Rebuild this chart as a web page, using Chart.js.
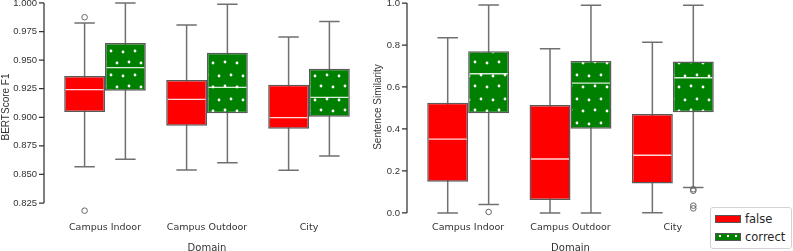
<!DOCTYPE html>
<html>
<head>
<meta charset="utf-8">
<script src="https://cdn.jsdelivr.net/npm/chart.js@4.4.0/dist/chart.umd.min.js"></script>
<style>
    body { margin: 0; width: 793px; height: 251px; position: relative; background: #fff; overflow: hidden; }
    #bert-chart { position: absolute; left: 0; top: 0; }
    #sim-chart { position: absolute; left: 370px; top: 0; }
    #legend {
        position: absolute; left: 710px; top: 207px; width: 82px; height: 42px;
        box-sizing: border-box; border: 1px solid #d3d3d3; border-radius: 3px; background: #fff;
        font-family: 'DejaVu Sans', sans-serif; font-size: 11.5px; color: #262626;
    }
    #legend .sw { position: absolute; left: 4px; width: 26px; height: 8px; box-sizing: border-box; border: 1px solid #555; }
    #legend .txt { position: absolute; left: 34px; line-height: 14px; }
    #legend .red { background: #ff0000; }
    #legend .dots {
        background-color: #008000;
        background-image: radial-gradient(circle, #fff 1.1px, transparent 1.6px);
        background-size: 8px 6px;
        background-position: 0 -1px;
    }
</style>
</head>
<body>
<canvas id="bert-chart" width="370" height="251"></canvas>
<canvas id="sim-chart" width="423" height="251"></canvas>
<div id="legend">
    <span class="sw red" style="top:7px"></span><span class="txt" style="top:4px">false</span>
    <span class="sw dots" style="top:25px"></span><span class="txt" style="top:22px">correct</span>
</div>
<script>
// Categories on the x axis
const domains = ['Campus Indoor', 'Campus Outdoor', 'City'];

// BERTScore F1 - boxes are [q1, q3], whiskers are [low, high]
const bertFalseBox = [[0.9046, 0.9361], [0.8927, 0.9326], [0.8900, 0.9285]];
const bertFalseMedian = [0.9242, 0.9157, 0.8997];
const bertFalseWhiskers = [[0.8568, 0.9825], [0.8539, 0.9808], [0.8536, 0.9703]];
const bertFalseOutliers = [[0.8183, 0.9875], [], []];

const bertCorrectBox = [[0.9233, 0.9650], [0.9035, 0.9565], [0.9005, 0.9425]];
const bertCorrectMedian = [0.9434, 0.9262, 0.9175];
const bertCorrectWhiskers = [[0.8632, 1.0000], [0.8603, 0.9989], [0.8661, 0.9837]];
const bertCorrectOutliers = [[], [], []];

// Sentence similarity
const simFalseBox = [[0.149, 0.525], [0.062, 0.514], [0.141, 0.471]];
const simFalseMedian = [0.352, 0.257, 0.275];
const simFalseWhiskers = [[0.000, 0.835], [0.000, 0.782], [0.001, 0.813]];
const simFalseOutliers = [[], [], []];

const simCorrectBox = [[0.475, 0.770], [0.401, 0.724], [0.480, 0.722]];
const simCorrectMedian = [0.663, 0.618, 0.644];
const simCorrectWhiskers = [[0.040, 0.990], [0.000, 0.989], [0.121, 0.989]];
const simCorrectOutliers = [[0.005], [], [0.113, 0.106, 0.035, 0.022]];

// Tick labels
const bertTicks = [0.825, 0.850, 0.875, 0.900, 0.925, 0.950, 0.975, 1.000];
const simTicks = [0.0, 0.2, 0.4, 0.6, 0.8, 1.0];

// green fill with white dots (hatch)
function dotPattern(ctx) {
    const tile = document.createElement('canvas');
    tile.width = 24;
    tile.height = 24;
    const t = tile.getContext('2d');
    t.fillStyle = '#008000';
    t.fillRect(0, 0, 24, 24);
    t.fillStyle = '#ffffff';
    [[3, 4], [15, 3], [9, 14], [21, 15]].forEach(([x, y]) => {
        t.beginPath();
        t.arc(x, y, 1.4, 0, Math.PI * 2);
        t.fill();
    });
    return ctx.createPattern(tile, 'repeat');
}

// whiskers, caps, medians and outliers drawn on top of the floating bars
const boxPlotParts = {
    id: 'boxPlotParts',
    beforeDatasetsDraw(chart) {
        const ctx = chart.ctx, y = chart.scales.y;
        chart.data.datasets.forEach((ds, i) => {
            chart.getDatasetMeta(i).data.forEach((bar, j) => {
                const [lo, hi] = ds.whiskers[j];
                const cap = bar.width / 4;
                const yLo = y.getPixelForValue(lo), yHi = y.getPixelForValue(hi);
                ctx.save();
                ctx.strokeStyle = '#707070';
                ctx.lineWidth = 1.5;
                ctx.beginPath();
                ctx.moveTo(bar.x, yLo); ctx.lineTo(bar.x, yHi);
                ctx.moveTo(bar.x - cap, yLo); ctx.lineTo(bar.x + cap, yLo);
                ctx.moveTo(bar.x - cap, yHi); ctx.lineTo(bar.x + cap, yHi);
                ctx.stroke();
                ctx.restore();
            });
        });
    },
    afterDatasetsDraw(chart) {
        const ctx = chart.ctx, y = chart.scales.y;
        chart.data.datasets.forEach((ds, i) => {
            chart.getDatasetMeta(i).data.forEach((bar, j) => {
                const half = bar.width / 2 - 1.5;
                const ym = y.getPixelForValue(ds.medians[j]);
                ctx.save();
                ctx.strokeStyle = 'rgba(255,255,255,0.85)';
                ctx.lineWidth = 1.3;
                ctx.beginPath();
                ctx.moveTo(bar.x - half, ym); ctx.lineTo(bar.x + half, ym);
                ctx.stroke();
                ctx.strokeStyle = '#666';
                ctx.lineWidth = 1;
                ds.outliers[j].forEach(v => {
                    ctx.beginPath();
                    ctx.arc(bar.x, y.getPixelForValue(v), 2.8, 0, Math.PI * 2);
                    ctx.stroke();
                });
                ctx.restore();
            });
        });
    }
};

// trimmed y spine, pushed 10px left of the plot
const offsetSpine = {
    id: 'offsetSpine',
    afterDraw(chart) {
        const ctx = chart.ctx, y = chart.scales.y;
        const x = chart.chartArea.left - 10;
        const ticks = y.ticks;
        const top = y.getPixelForValue(ticks[ticks.length - 1].value);
        const bottom = y.getPixelForValue(ticks[0].value);
        ctx.save();
        ctx.strokeStyle = '#333';
        ctx.lineWidth = 1.25;
        ctx.beginPath();
        ctx.moveTo(x, top); ctx.lineTo(x, bottom);
        ticks.forEach(t => {
            const p = y.getPixelForValue(t.value);
            ctx.moveTo(x - 5, p); ctx.lineTo(x, p);
        });
        ctx.stroke();
        ctx.restore();
    }
};

function boxChart(canvasId, cfg) {
    const canvas = document.getElementById(canvasId);
    const ctx = canvas.getContext('2d');
    return new Chart(canvas, {
        type: 'bar',
        data: {
            labels: domains,
            datasets: [{
                label: 'false',
                data: cfg.falseBox,
                whiskers: cfg.falseWhiskers,
                medians: cfg.falseMedian,
                outliers: cfg.falseOutliers,
                backgroundColor: '#ff0000',
                borderColor: '#5a5a5a',
                borderWidth: 1.5,
                borderSkipped: false,
                categoryPercentage: 0.8,
                barPercentage: 1.0,
            }, {
                label: 'correct',
                data: cfg.correctBox,
                whiskers: cfg.correctWhiskers,
                medians: cfg.correctMedian,
                outliers: cfg.correctOutliers,
                backgroundColor: dotPattern(ctx),
                borderColor: '#5a5a5a',
                borderWidth: 1.5,
                borderSkipped: false,
                categoryPercentage: 0.8,
                barPercentage: 1.0,
            }]
        },
        options: {
            responsive: false,
            animation: false,
            layout: { padding: { left: 0, right: cfg.rightPad, top: 0, bottom: 0 } },
            plugins: {
                legend: { display: false },
                tooltip: { enabled: false },
            },
            scales: {
                x: {
                    grid: { display: false, drawTicks: false },
                    border: { display: false },
                    ticks: {
                        padding: 8,
                        color: '#333',
                        maxRotation: 0,
                        autoSkip: false,
                        font: { family: 'DejaVu Sans', size: 9.5 },
                    },
                    title: {
                        display: true,
                        text: 'Domain',
                        color: '#333',
                        padding: { top: 0, bottom: -3 },
                        font: { family: 'DejaVu Sans', size: 10 },
                    },
                    afterFit(scale) {
                        scale.height = 37;
                        scale.paddingLeft = 0;
                        scale.paddingRight = 0;
                    },
                },
                y: {
                    min: cfg.min,
                    max: cfg.max,
                    grid: { display: false, drawTicks: false },
                    border: { display: false },
                    afterBuildTicks(scale) {
                        scale.ticks = cfg.ticks.map(v => ({ value: v }));
                    },
                    ticks: {
                        padding: 17,
                        color: '#333',
                        font: { family: 'Liberation Sans', size: 9.5 },
                        callback: v => v.toFixed(cfg.digits),
                    },
                    title: {
                        display: true,
                        text: cfg.title,
                        color: '#333',
                        padding: { top: cfg.titlePad, bottom: 0 },
                        font: { family: 'Liberation Sans', size: 10 },
                    },
                    afterFit(scale) {
                        scale.width = cfg.axisWidth;
                        scale.paddingTop = 0;
                        scale.paddingBottom = 0;
                    },
                },
            },
        },
        plugins: [boxPlotParts, offsetSpine],
    });
}

const bertChart = boxChart('bert-chart', {
    falseBox: bertFalseBox, falseMedian: bertFalseMedian,
    falseWhiskers: bertFalseWhiskers, falseOutliers: bertFalseOutliers,
    correctBox: bertCorrectBox, correctMedian: bertCorrectMedian,
    correctWhiskers: bertCorrectWhiskers, correctOutliers: bertCorrectOutliers,
    ticks: bertTicks, digits: 3, min: 0.8154, max: 1.0026,
    title: 'BERTScore F1', titlePad: 0, axisWidth: 54, rightPad: 10,
});

const simChart = boxChart('sim-chart', {
    falseBox: simFalseBox, falseMedian: simFalseMedian,
    falseWhiskers: simFalseWhiskers, falseOutliers: simFalseOutliers,
    correctBox: simCorrectBox, correctMedian: simCorrectMedian,
    correctWhiskers: simCorrectWhiskers, correctOutliers: simCorrectOutliers,
    ticks: simTicks, digits: 1, min: -0.0048, max: 1.0143,
    title: 'Sentence Similarity', titlePad: 2, axisWidth: 47, rightPad: 69,
});
</script>
</body>
</html>
